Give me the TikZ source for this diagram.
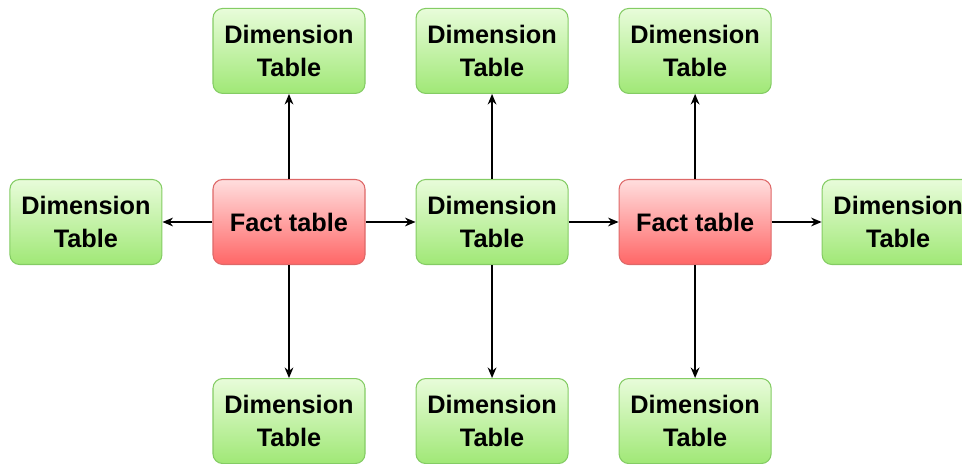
\documentclass[tikz,border=0pt]{standalone}
\usepackage{fontspec}
\setmainfont{Liberation Sans}
\usetikzlibrary{positioning, arrows.meta}

\definecolor{dimtop}{RGB}{232,252,218}
\definecolor{dimbot}{RGB}{160,232,118}
\definecolor{dimline}{RGB}{132,204,100}
\definecolor{facttop}{RGB}{255,222,222}
\definecolor{factbot}{RGB}{255,102,102}
\definecolor{factline}{RGB}{222,104,104}

\begin{document}
\begin{tikzpicture}[
  dim/.style={rectangle, draw=dimline, line width=0.6pt, rounded corners=5.5pt,
              top color=dimtop, bottom color=dimbot,
              minimum width=3.04cm, minimum height=1.7cm, align=center,
              font=\fontsize{14.4}{18.7}\selectfont\bfseries},
  fact/.style={dim, draw=factline, top color=facttop, bottom color=factbot},
  arr/.style={-{Stealth[length=6pt, width=5pt]}, line width=0.75pt},
  node distance=1.7cm and 1cm,
]
\useasboundingbox (0,0) rectangle (19.24,-9.28);

% centre row
\node[fact] (fact1) at (5.78,-4.44) {Fact table};
\node[dim, left=of fact1] (dimL) {Dimension\\Table};
\node[dim, right=of fact1] (dimM) {Dimension\\Table};
\node[fact, right=of dimM] (fact2) {Fact table};
\node[dim, right=of fact2] (dimR) {Dimension\\Table};

% top and bottom rows
\node[dim, above=of fact1] (top1) {Dimension\\Table};
\node[dim, above=of dimM] (top2) {Dimension\\Table};
\node[dim, above=of fact2] (top3) {Dimension\\Table};
\node[dim, below=2.26cm of fact1] (bot1) {Dimension\\Table};
\node[dim, below=2.26cm of dimM] (bot2) {Dimension\\Table};
\node[dim, below=2.26cm of fact2] (bot3) {Dimension\\Table};

\draw[arr] (fact1) -- (dimL);
\draw[arr] (fact1) -- (dimM);
\draw[arr] (fact1) -- (top1);
\draw[arr] (fact1) -- (bot1);
\draw[arr] (dimM) -- (top2);
\draw[arr] (dimM) -- (bot2);
\draw[arr] (dimM) -- (fact2);
\draw[arr] (fact2) -- (top3);
\draw[arr] (fact2) -- (bot3);
\draw[arr] (fact2) -- (dimR);
\end{tikzpicture}
\end{document}
